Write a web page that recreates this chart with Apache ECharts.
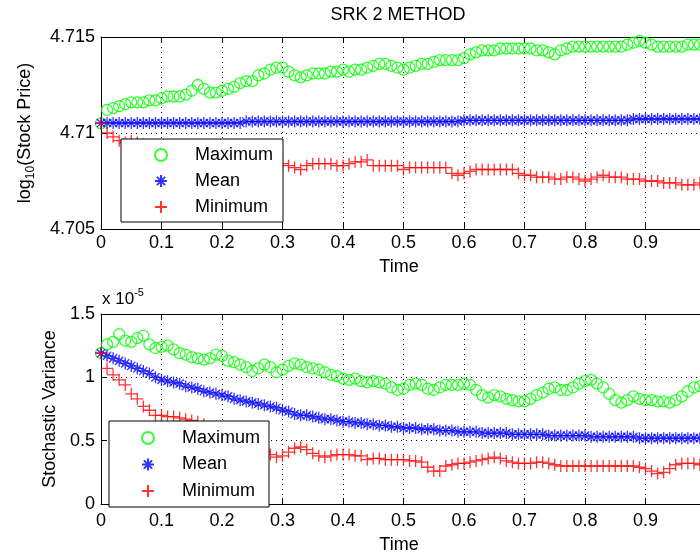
<!DOCTYPE html>
<html><head><meta charset="utf-8">
<script src="https://cdn.jsdelivr.net/npm/echarts@6/dist/echarts.min.js"></script>
<style>html,body{margin:0;padding:0;background:#fff}#c{width:700px;height:558px}</style>
</head><body><div id="c"></div>
<script>
// ---------- DATA ----------
const TIME = [0,0.01,0.02,0.03,0.04,0.05,0.06,0.07,0.08,0.09,
 0.10,0.11,0.12,0.13,0.14,0.15,0.16,0.17,0.18,0.19,
 0.20,0.21,0.22,0.23,0.24,0.25,0.26,0.27,0.28,0.29,
 0.30,0.31,0.32,0.33,0.34,0.35,0.36,0.37,0.38,0.39,
 0.40,0.41,0.42,0.43,0.44,0.45,0.46,0.47,0.48,0.49,
 0.50,0.51,0.52,0.53,0.54,0.55,0.56,0.57,0.58,0.59,
 0.60,0.61,0.62,0.63,0.64,0.65,0.66,0.67,0.68,0.69,
 0.70,0.71,0.72,0.73,0.74,0.75,0.76,0.77,0.78,0.79,
 0.80,0.81,0.82,0.83,0.84,0.85,0.86,0.87,0.88,0.89,
 0.90,0.91,0.92,0.93,0.94,0.95,0.96,0.97,0.98,0.99,1.00];

const SERIES_NAMES = ['Maximum','Mean','Minimum'];

// log10(Stock Price)
const priceMax = [4.7105,4.7112,4.7113,4.7114,4.7115,4.7116,4.7116,4.7116,4.7117,4.7117,
 4.7118,4.7119,4.7119,4.7119,4.7120,4.7122,4.7125,4.7123,4.7121,4.7121,
 4.7122,4.7123,4.7124,4.7126,4.7127,4.7127,4.7130,4.7131,4.7133,4.7134,
 4.7134,4.7132,4.7130,4.7129,4.7130,4.7131,4.7131,4.7131,4.7132,4.7132,
 4.7133,4.7132,4.7133,4.7133,4.7134,4.7135,4.7136,4.7136,4.7135,4.7134,
 4.7133,4.7134,4.7135,4.7136,4.7136,4.7137,4.7138,4.7138,4.7138,4.7138,
 4.7139,4.7141,4.7142,4.7143,4.7143,4.7143,4.7144,4.7144,4.7144,4.7144,
 4.7144,4.7144,4.7143,4.7143,4.7142,4.7141,4.7143,4.7144,4.7145,4.7145,
 4.7145,4.7145,4.7145,4.7145,4.7145,4.7145,4.7145,4.7146,4.7147,4.7148,
 4.7147,4.7146,4.7145,4.7145,4.7145,4.7145,4.7145,4.7146,4.7146,4.7146,
 4.7146];
const priceMean = [4.71052,4.71052,4.71052,4.71052,4.71052,4.71052,4.71052,4.71052,4.71052,4.71052,
 4.71052,4.71052,4.71052,4.71052,4.71052,4.71052,4.71052,4.71052,4.71052,4.71052,
 4.71052,4.71052,4.71052,4.71052,4.7106,4.7106,4.7106,4.7106,4.7106,4.7106,
 4.7106,4.7106,4.7106,4.7106,4.7106,4.7106,4.7106,4.7106,4.7106,4.7106,
 4.7106,4.7106,4.7106,4.7106,4.7106,4.7106,4.7106,4.7106,4.7106,4.7106,
 4.7106,4.7106,4.7106,4.7106,4.7106,4.7106,4.7106,4.7106,4.7106,4.7106,
 4.71066,4.71066,4.71066,4.71066,4.71066,4.71066,4.71066,4.71066,4.71066,4.71066,
 4.71066,4.71066,4.71066,4.71066,4.71066,4.71066,4.71066,4.71066,4.71066,4.71066,
 4.71066,4.71066,4.71066,4.71066,4.71066,4.71066,4.71066,4.71066,4.71073,4.71073,
 4.71073,4.71073,4.71073,4.71073,4.71073,4.71073,4.71073,4.71073,4.71073,4.71073,
 4.71073];
const priceMin = [4.7105,4.7100,4.7098,4.7096,4.7095,4.7096,4.7095,4.7094,4.7093,4.7092,
 4.7091,4.7090,4.7090,4.7089,4.7089,4.7088,4.7088,4.7087,4.7087,4.7087,
 4.7086,4.7086,4.7086,4.7085,4.7085,4.7085,4.7085,4.7084,4.7084,4.7084,
 4.7084,4.7083,4.7082,4.7081,4.7083,4.7084,4.7084,4.7084,4.7084,4.7083,
 4.7083,4.7084,4.7085,4.7085,4.7086,4.7083,4.7083,4.7083,4.7083,4.7083,
 4.7081,4.7082,4.7082,4.7082,4.7082,4.7082,4.7082,4.7082,4.7079,4.7078,
 4.7079,4.7080,4.7081,4.7081,4.7081,4.7081,4.7081,4.7081,4.7081,4.7079,
 4.7078,4.7078,4.7077,4.7077,4.7077,4.7076,4.7076,4.7077,4.7077,4.7076,
 4.7075,4.7076,4.7077,4.7078,4.7077,4.7077,4.7077,4.7076,4.7076,4.7076,
 4.7075,4.7075,4.7075,4.7074,4.7074,4.7074,4.7073,4.7073,4.7073,4.7074,
 4.7075];

// Stochastic variance, in units of 1e-5
const VAR_SCALE_EXP = -5;
const varMax = [1.19,1.26,1.28,1.34,1.29,1.28,1.31,1.33,1.26,1.23,
 1.24,1.25,1.22,1.19,1.18,1.16,1.15,1.14,1.15,1.18,
 1.17,1.13,1.12,1.10,1.08,1.05,1.07,1.10,1.08,1.04,
 1.06,1.09,1.11,1.10,1.08,1.07,1.06,1.04,1.02,1.01,
 0.99,0.98,0.99,0.97,0.96,0.97,0.96,0.95,0.92,0.90,
 0.91,0.94,0.95,0.94,0.91,0.90,0.92,0.94,0.94,0.94,
 0.95,0.94,0.90,0.86,0.84,0.86,0.85,0.83,0.82,0.81,
 0.81,0.83,0.86,0.88,0.91,0.92,0.90,0.90,0.92,0.95,
 0.97,0.98,0.95,0.92,0.87,0.82,0.80,0.82,0.85,0.83,
 0.82,0.82,0.81,0.81,0.80,0.82,0.85,0.89,0.92,0.93,
 0.93];
const varMean = [1.19,1.17,1.15,1.13,1.11,1.09,1.07,1.05,1.03,1.00,
 0.98,0.97,0.96,0.95,0.93,0.92,0.91,0.89,0.88,0.87,
 0.86,0.85,0.83,0.82,0.81,0.80,0.79,0.78,0.77,0.76,
 0.74,0.73,0.71,0.70,0.70,0.69,0.68,0.67,0.67,0.66,
 0.65,0.65,0.64,0.64,0.63,0.63,0.62,0.62,0.61,0.61,
 0.60,0.60,0.60,0.59,0.59,0.59,0.58,0.58,0.58,0.57,
 0.57,0.57,0.57,0.56,0.56,0.56,0.56,0.56,0.55,0.55,
 0.55,0.55,0.55,0.55,0.54,0.54,0.54,0.54,0.54,0.54,
 0.54,0.53,0.53,0.53,0.53,0.53,0.53,0.53,0.53,0.52,
 0.52,0.52,0.52,0.52,0.52,0.52,0.52,0.52,0.52,0.52,
 0.52];
const varMin = [1.19,1.07,1.02,0.98,0.94,0.87,0.83,0.77,0.74,0.70,
 0.70,0.69,0.69,0.68,0.67,0.66,0.65,0.63,0.61,0.58,
 0.56,0.54,0.52,0.50,0.47,0.45,0.43,0.41,0.39,0.37,
 0.38,0.41,0.44,0.45,0.43,0.40,0.38,0.37,0.38,0.39,
 0.39,0.39,0.38,0.38,0.35,0.36,0.36,0.35,0.35,0.35,
 0.35,0.34,0.34,0.33,0.29,0.26,0.26,0.30,0.31,0.32,
 0.32,0.33,0.34,0.35,0.36,0.37,0.36,0.34,0.33,0.32,
 0.32,0.32,0.33,0.33,0.32,0.31,0.30,0.30,0.30,0.30,
 0.30,0.30,0.30,0.30,0.30,0.30,0.30,0.30,0.30,0.29,
 0.28,0.26,0.24,0.25,0.28,0.31,0.32,0.32,0.32,0.31,
 0.31];

// ---------- STYLE ----------
const FONT = '"Liberation Sans", Arial, Helvetica, sans-serif';
const BLACK = '#000';
const COLORS = {Maximum:'#00ff00', Mean:'#0000ff', Minimum:'#ff0000'};
const SYMBOLS = {
  Maximum: 'path://M12,6A6,6,0,1,1,0,6A6,6,0,1,1,12,6Z',
  Mean: 'path://M6,0L6,12M0,6L12,6M1.9,1.9L10.1,10.1M10.1,1.9L1.9,10.1',
  Minimum: 'path://M6,0L6,12M0,6L12,6'
};
const SIZES = {Maximum:11, Mean:12, Minimum:12};
const DOT = {color:BLACK, width:1, type:[1,4]};

function pairs(arr){ return TIME.map((t,i)=>[t, arr[i]]); }

function xMain(g, margin, gap){
  return {type:'value', gridIndex:g, min:0, max:1, interval:0.1, position:'bottom',
    axisLine:{show:true, onZero:false, lineStyle:{color:BLACK, width:1}},
    axisTick:{show:true, inside:true, length:6, lineStyle:{color:BLACK}},
    axisLabel:{color:BLACK, fontSize:18, fontFamily:FONT, margin:margin},
    splitLine:{show:true, lineStyle:DOT},
    name:'Time', nameLocation:'middle', nameGap:gap,
    nameTextStyle:{color:BLACK, fontSize:18, fontFamily:FONT, padding:[0,9,0,0]}};
}
function xTop(g){
  return {type:'value', gridIndex:g, min:0, max:1, interval:0.1, position:'top',
    axisLine:{show:true, onZero:false, lineStyle:{color:BLACK, width:1}},
    axisTick:{show:true, inside:true, length:6, lineStyle:{color:BLACK}},
    axisLabel:{show:false}, splitLine:{show:false}};
}
function yMain(g, min, max, interval, name, gap, rich){
  return {type:'value', gridIndex:g, min:min, max:max, interval:interval, position:'left',
    axisLine:{show:true, onZero:false, lineStyle:{color:BLACK, width:1}},
    axisTick:{show:true, inside:true, length:6, lineStyle:{color:BLACK}},
    axisLabel:{color:BLACK, fontSize:18, fontFamily:FONT, margin:6},
    splitLine:{show:true, lineStyle:DOT},
    name:name, nameLocation:'middle', nameRotate:90, nameGap:gap,
    nameTextStyle:{color:BLACK, fontSize:18, fontFamily:FONT, rich:rich}};
}
function yRight(g, min, max, interval){
  return {type:'value', gridIndex:g, min:min, max:max, interval:interval, position:'right',
    axisLine:{show:true, onZero:false, lineStyle:{color:BLACK, width:1}},
    axisTick:{show:true, inside:true, length:6, lineStyle:{color:BLACK}},
    axisLabel:{show:false}, splitLine:{show:false}};
}
function mkSeries(name, arr, xi, yi){
  return {type:'scatter', name:name, xAxisIndex:xi, yAxisIndex:yi, data:pairs(arr),
    symbol:SYMBOLS[name], symbolSize:SIZES[name], clip:false, silent:true,
    emphasis:{disabled:true},
    itemStyle:{color:'rgba(0,0,0,0)', borderColor:COLORS[name], borderWidth:1.3}};
}
function mkLegend(left, top, padding, gap){
  return {data:SERIES_NAMES, orient:'vertical', left:left, top:top, padding:padding,
    itemWidth:58, itemHeight:12, itemGap:gap, backgroundColor:'#fff',
    borderColor:BLACK, borderWidth:1, borderRadius:0, selectedMode:false,
    textStyle:{color:BLACK, fontSize:18, fontFamily:FONT, lineHeight:20}};
}

const logRich = {
  a:{fontSize:18, fontFamily:FONT, color:BLACK, lineHeight:24},
  b:{fontSize:12, fontFamily:FONT, color:BLACK, lineHeight:12, verticalAlign:'bottom'}
};

const chart = echarts.init(document.getElementById('c'), null, {renderer:'canvas'});
chart.setOption({
  animation:false,
  backgroundColor:'#fff',
  title:{text:'SRK 2 METHOD', left:398, top:6, textAlign:'center', padding:0,
    textStyle:{color:BLACK, fontSize:18, fontWeight:'normal', fontFamily:FONT}},
  grid:[
    {left:101, width:605, top:37, height:192, outerBoundsMode:'none', containLabel:false},
    {left:101, width:605, top:314, height:190, outerBoundsMode:'none', containLabel:false}
  ],
  xAxis:[xMain(0,5,29), xTop(0), xMain(1,8,32), xTop(1)],
  yAxis:[
    yMain(0, 4.705, 4.715, 0.005, '{a|log}{b|10}{a|(Stock Price)}', 64, logRich),
    yRight(0, 4.705, 4.715, 0.005),
    yMain(1, 0, 1.5, 0.5, 'Stochastic Variance', 42, null),
    yRight(1, 0, 1.5, 0.5)
  ],
  legend:[mkLegend(121,139,[6,10,5,33],6), mkLegend(109,421,[7,9,6,32],6.5)],
  graphic:[{
    type:'text', left:102, top:287, silent:true,
    style:{text:'{a|x 10}{b|' + VAR_SCALE_EXP + '}',
      rich:{a:{fontSize:17, fontFamily:FONT, fill:BLACK, lineHeight:24},
            b:{fontSize:11, fontFamily:FONT, fill:BLACK, lineHeight:8, verticalAlign:'top'}}}
  }],
  series:[
    mkSeries('Maximum', priceMax, 0, 0),
    mkSeries('Mean', priceMean, 0, 0),
    mkSeries('Minimum', priceMin, 0, 0),
    mkSeries('Maximum', varMax, 2, 2),
    mkSeries('Mean', varMean, 2, 2),
    mkSeries('Minimum', varMin, 2, 2)
  ]
});
</script></body></html>
